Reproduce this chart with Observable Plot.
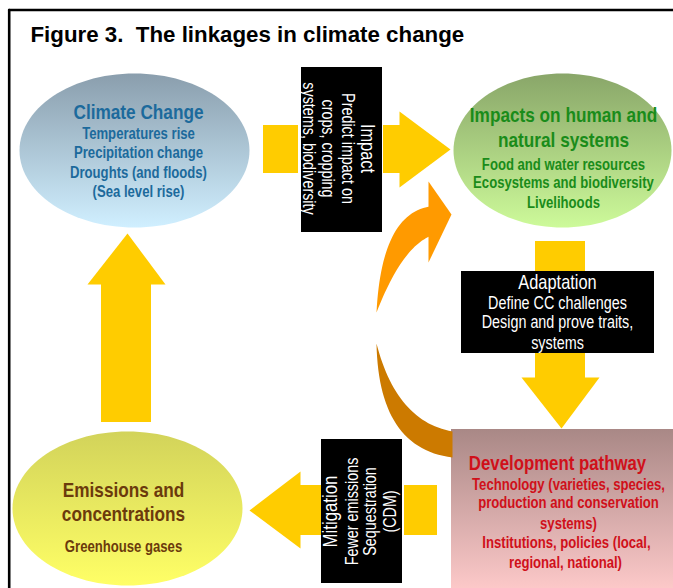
<!DOCTYPE html>
<html>
<head>
<meta charset="utf-8">
<script src="https://cdn.jsdelivr.net/npm/d3@7"></script>
<script src="https://cdn.jsdelivr.net/npm/@observablehq/plot@0.6"></script>
<style>
  html, body { margin: 0; padding: 0; background: #fff; }
  #chart { width: 673px; height: 588px; overflow: hidden; }
</style>
</head>
<body>
<div id="chart"></div>
<script>
// ---------- content (text) ----------
const title = "Figure 3.  The linkages in climate change";
const climateLines = ["Climate Change", "Temperatures rise", "Precipitation change", "Droughts (and floods)", "(Sea level rise)"];
const impactsLines = ["Impacts on human and", "natural systems", "Food and water resources", "Ecosystems and biodiversity", "Livelihoods"];
const emissionsLines = ["Emissions and", "concentrations", "Greenhouse gases"];
const developmentLines = ["Development pathway", "Technology (varieties, species,", "production and conservation", "systems)", "Institutions, policies (local,", "regional, national)"];
const impactArrowLines = ["Impact", "Predict impact on", "crops, cropping", "systems, biodiversity"];
const adaptationLines = ["Adaptation", "Define CC challenges", "Design and prove traits,", "systems"];
const mitigationLines = ["Mitigation", "Fewer emissions", "Sequestration", "(CDM)"];

// ---------- layout (pixel space of the figure) ----------
const W = 673, H = 588;
const SANS = "'Liberation Sans', Arial, Helvetica, sans-serif";
const NARROW_SCALE = 0.82; // Arial Narrow ≈ Arial compressed horizontally
const ellipses = [
  {id: "cc",  cx: 134, cy: 150, rx: 115, ry: 77, grad: "gCC"},
  {id: "imp", cx: 562, cy: 150, rx: 109, ry: 77, grad: "gIMP"},
  {id: "em",  cx: 127, cy: 508, rx: 115, ry: 77, grad: "gEM"}
];
const ellipsePts = ellipses.flatMap(e => d3.range(0, 120).map(i => {
  const a = i / 120 * 2 * Math.PI;
  return {id: e.id, x: e.cx + e.rx * Math.cos(a), y: e.cy + e.ry * Math.sin(a)};
}));

const yellowRects = [
  {x1: 263, x2: 298, y1: 125, y2: 173},
  {x1: 383, x2: 400, y1: 125, y2: 173},
  {x1: 535, x2: 585, y1: 241, y2: 378},
  {x1: 404, x2: 437, y1: 485, y2: 535},
  {x1: 299, x2: 322, y1: 485, y2: 535},
  {x1: 101, x2: 151, y1: 283, y2: 422}
];
const heads = [
  {id: "h1", pts: [[399, 111], [450, 149], [399, 187]]},
  {id: "h2", pts: [[521, 377], [561, 428], [599, 377]]},
  {id: "h3", pts: [[300, 471], [249, 510], [300, 548]]},
  {id: "h4", pts: [[87, 284], [127, 233], [165, 284]]},
  {id: "h5", pts: [[428, 181], [451, 214], [428, 262]]}
];
const headPts = heads.flatMap(h => h.pts.map(([x, y]) => ({id: h.id, x, y})));

const blackBoxes = [
  {x1: 301, x2: 382, y1: 67, y2: 232},
  {x1: 461, x2: 654, y1: 271, y2: 353},
  {x1: 321, x2: 402, y1: 439, y2: 583}
];

function quad(p0, c, p1, n = 30) {
  return d3.range(n + 1).map(i => {
    const t = i / n, u = 1 - t;
    return [u*u*p0[0] + 2*u*t*c[0] + t*t*p1[0], u*u*p0[1] + 2*u*t*c[1] + t*t*p1[1]];
  });
}
const upperCrescent = [...quad([376, 312], [381, 214], [429, 206]), ...quad([429, 236], [401, 248], [376, 312])]
  .map(([x, y]) => ({x, y}));
const lowerCrescent = [...quad([376, 343], [378, 448], [452, 457]), ...quad([452, 431], [396, 421], [376, 343])]
  .map(([x, y]) => ({x, y}));

function lines(arr, xs, ys, sizes, color, rotate = 0) {
  return arr.map((t, i) => ({
    text: t,
    x: Array.isArray(xs) ? xs[i] : xs,
    y: Array.isArray(ys) ? ys[i] : ys,
    size: Array.isArray(sizes) ? sizes[i] : sizes,
    color, rotate
  }));
}
const colouredTexts = [
  ...lines(climateLines, 138, [112, 133, 152, 172, 191], [21, 16, 16, 16, 16], "#1c6a9c"),
  ...lines(impactsLines, 563, [115, 140, 164, 182, 202], [21, 21, 16, 16, 16], "#1a8c1a"),
  ...lines(emissionsLines, 123, [490, 514, 546], [21, 21, 16], "#6b3a0c"),
  ...lines(developmentLines, [557, 568, 568, 568, 566, 565], [463, 484, 502, 523, 542, 562], [20.5, 16, 16, 16, 16, 16], "#d0101a")
];
const whiteTexts = [
  ...lines(impactArrowLines, [367, 347, 327, 308], 148, [20, 17.5, 17.5, 17.5], "#ffffff", 90),
  ...lines(adaptationLines, 557, [282, 303, 322, 343], [20, 17.5, 17.5, 17.5], "#ffffff", 0),
  ...lines(mitigationLines, [330, 352, 370, 390], 511, [20.5, 17.5, 17.5, 17.5], "#ffffff", -90)
];

const frameTop = [{x: 8.7, y: 9.5}, {x: W + 5, y: 9.5}];
const frameLeft = [{x: 8.7, y: 9.5}, {x: 8.7, y: H + 5}];

const textOpts = {x: "x", y: "y", text: "text", fontSize: "size", fill: "color", rotate: "rotate",
  fontFamily: SANS, textAnchor: "middle", lineAnchor: "middle"};

const chart = Plot.plot({
  width: W, height: H,
  marginTop: 0, marginRight: 0, marginBottom: 0, marginLeft: 0,
  x: {domain: [0, W], range: [0, W], axis: null},
  y: {domain: [0, H], range: [0, H], axis: null},
  style: {background: "#fff", overflow: "hidden"},
  marks: [
    Plot.line(frameTop, {x: "x", y: "y", stroke: "#000", strokeWidth: 2.6}),
    Plot.line(frameLeft, {x: "x", y: "y", stroke: "#000", strokeWidth: 2.6}),
    ...ellipses.map(e => Plot.line(ellipsePts.filter(p => p.id === e.id), {x: "x", y: "y", curve: "linear-closed", fill: `url(#${e.grad})`, stroke: "none"})),
    Plot.rect([{x1: 451, x2: W + 2, y1: 429, y2: H + 2}], {x1: "x1", x2: "x2", y1: "y1", y2: "y2", fill: "url(#gDEV)"}),
    Plot.line(lowerCrescent, {x: "x", y: "y", fill: "#cc7a00", stroke: "none", curve: "linear-closed"}),
    Plot.line(upperCrescent, {x: "x", y: "y", fill: "#ff9a00", stroke: "none", curve: "linear-closed"}),
    Plot.line(headPts.filter(d => d.id === "h5"), {x: "x", y: "y", fill: "#ff9a00", stroke: "none", curve: "linear-closed"}),
    Plot.rect(yellowRects, {x1: "x1", x2: "x2", y1: "y1", y2: "y2", fill: "#ffcc00"}),
    Plot.line(headPts.filter(d => d.id !== "h5"), {x: "x", y: "y", z: "id", fill: "#ffcc00", stroke: "none", curve: "linear-closed"}),
    Plot.rect(blackBoxes, {x1: "x1", x2: "x2", y1: "y1", y2: "y2", fill: "#000"}),
    Plot.text(colouredTexts, {...textOpts, fontWeight: "bold"}),
    Plot.text(whiteTexts, {...textOpts, fontWeight: "normal"}),
    Plot.text([title], {x: 30, y: 34.5, text: d => d, textAnchor: "start", lineAnchor: "middle",
      fontFamily: SANS, fontWeight: "bold", fontSize: 22.3, fill: "#000"})
  ]
});

// compress diagram labels horizontally (narrow face)
chart.querySelectorAll("text").forEach(t => {
  if (t.textContent === title) return;
  const tr = t.getAttribute("transform");
  if (tr) {
    t.setAttribute("transform", tr + ` scale(${NARROW_SCALE},1)`);
  } else {
    const x = +t.getAttribute("x") || 0, y = +t.getAttribute("y") || 0;
    t.removeAttribute("x"); t.removeAttribute("y");
    t.setAttribute("transform", `translate(${x},${y}) scale(${NARROW_SCALE},1)`);
  }
});

const defs = document.createElementNS("http://www.w3.org/2000/svg", "defs");
defs.innerHTML = `
  <linearGradient id="gCC" x1="0" y1="0" x2="0" y2="1"><stop offset="0" stop-color="#8a9ead"/><stop offset="1" stop-color="#d0efff"/></linearGradient>
  <linearGradient id="gIMP" x1="0" y1="0" x2="0" y2="1"><stop offset="0" stop-color="#89a669"/><stop offset="1" stop-color="#cdfa9a"/></linearGradient>
  <linearGradient id="gEM" x1="0" y1="0" x2="0" y2="1"><stop offset="0" stop-color="#d2d35a"/><stop offset="1" stop-color="#ffff66"/></linearGradient>
  <linearGradient id="gDEV" x1="0" y1="0" x2="0" y2="1"><stop offset="0" stop-color="#a98886"/><stop offset="1" stop-color="#fdc9c9"/></linearGradient>`;
chart.insertBefore(defs, chart.firstChild);
document.getElementById("chart").appendChild(chart);
</script>
</body>
</html>
